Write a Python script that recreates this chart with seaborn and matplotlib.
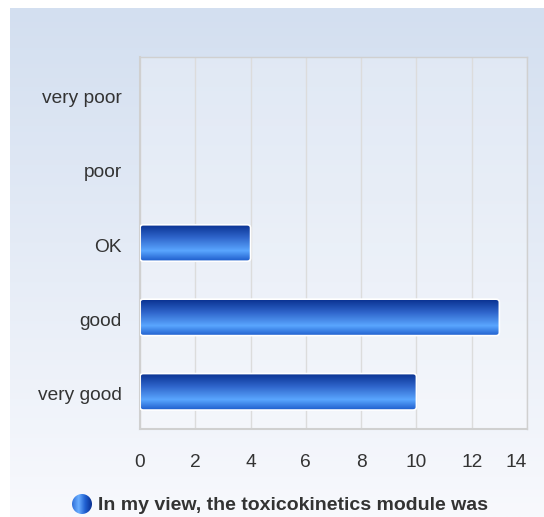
import numpy as np
import pandas as pd
import matplotlib
matplotlib.use("Agg")
import matplotlib.pyplot as plt
import matplotlib.transforms as mtransforms
from matplotlib.colors import LinearSegmentedColormap
from matplotlib.patches import FancyBboxPatch, Circle
import seaborn as sns

# data
categories = ["very poor", "poor", "OK", "good", "very good"]
counts = [0, 0, 4, 13, 10]
legend_label = "In my view, the toxicokinetics module was"
xticks = [0, 2, 4, 6, 8, 10, 12, 14]

sns.set_theme(style="white")
plt.rcParams['font.family'] = ['Liberation Sans', 'DejaVu Sans']

W, H = 544, 517
fig = plt.figure(figsize=(W / 100, H / 100), dpi=100)
fig.patch.set_facecolor("white")

# background panel gradient
bg = fig.add_axes([10 / W, 0, 1 - 10 / W, 1 - 8 / H], zorder=0)
bg_cmap = LinearSegmentedColormap.from_list("bg", ["#d3dff0", "#f8f9fd"])
bg.imshow(np.linspace(0, 1, 256).reshape(-1, 1), aspect="auto", cmap=bg_cmap,
          extent=[0, 1, 0, 1], origin="upper")
bg.axis("off")

ax = fig.add_axes([140 / W, 1 - 429 / H, 387 / W, 372 / H], zorder=1)
ax.set_facecolor((1, 1, 1, 0.25))

df = pd.DataFrame({"category": categories, "count": counts})
sns.barplot(data=df, x="count", y="category", orient="h", ax=ax,
            width=0.49, color="#2a6bd8", order=categories)

bar_cmap = LinearSegmentedColormap.from_list(
    "bar", [(0, "#08308f"), (0.35, "#2e63c9"), (0.72, "#5aa6ff"), (1, "#1d5ccb")])
grad = np.linspace(0, 1, 256).reshape(-1, 1)
for p in list(ax.patches):
    w = p.get_width()
    if w <= 0:
        p.set_visible(False)
        continue
    x0, y0, h = p.get_x(), p.get_y(), p.get_height()
    p.set_visible(False)
    shape = FancyBboxPatch((x0, y0), w, h, boxstyle="round,pad=0,rounding_size=0.12",
                           mutation_aspect=0.35, facecolor="none",
                           edgecolor="white", linewidth=1.2, zorder=3)
    ax.add_patch(shape)
    im = ax.imshow(grad, aspect="auto", cmap=bar_cmap,
                   extent=[x0, x0 + w, y0 + h, y0], origin="upper", zorder=2)
    im.set_clip_path(shape)

ax.set_xlim(0, 14)
ax.set_ylim(4.5, -0.5)
ax.set_xticks(xticks)
ax.set_xlabel("")
ax.set_ylabel("")
ax.grid(axis="x", color="#dcdcdc", linewidth=1)
ax.set_axisbelow(True)
for s in ax.spines.values():
    s.set_color("#d0d0d0")
    s.set_linewidth(1)
ax.spines["left"].set_linewidth(1.5)
ax.spines["bottom"].set_linewidth(1.5)
ax.tick_params(axis="both", length=0, labelsize=13.8, labelcolor="#333333")
ax.tick_params(axis="y", pad=13)
ax.tick_params(axis="x", pad=18)

# last x label sits inside the plot edge
ax.get_xticklabels()[-1].set_horizontalalignment("right")
shift = mtransforms.ScaledTranslation(0, -2 / 100, fig.dpi_scale_trans)
for lbl in ax.get_yticklabels():
    lbl.set_transform(lbl.get_transform() + shift)

# legend
lax = fig.add_axes([72 / W, 1 - 514 / H, 20 / W, 20 / H], zorder=2)
lax.set_xlim(0, 1)
lax.set_ylim(0, 1)
lax.axis("off")
circ = Circle((0.5, 0.5), 0.5, facecolor="none", edgecolor="none")
lax.add_patch(circ)
leg_cmap = LinearSegmentedColormap.from_list("leg", ["#2f6fd8", "#6aaeff", "#1f5fd0", "#0a2f90"])
li = lax.imshow(np.linspace(0, 1, 256).reshape(1, -1), aspect="auto", cmap=leg_cmap,
                extent=[0, 1, 0, 1])
li.set_clip_path(circ)
fig.text(98 / W, 1 - 505 / H, legend_label, fontsize=14, fontweight="bold",
         color="#333333", va="center", ha="left")

fig.savefig("out.png", dpi=100)
